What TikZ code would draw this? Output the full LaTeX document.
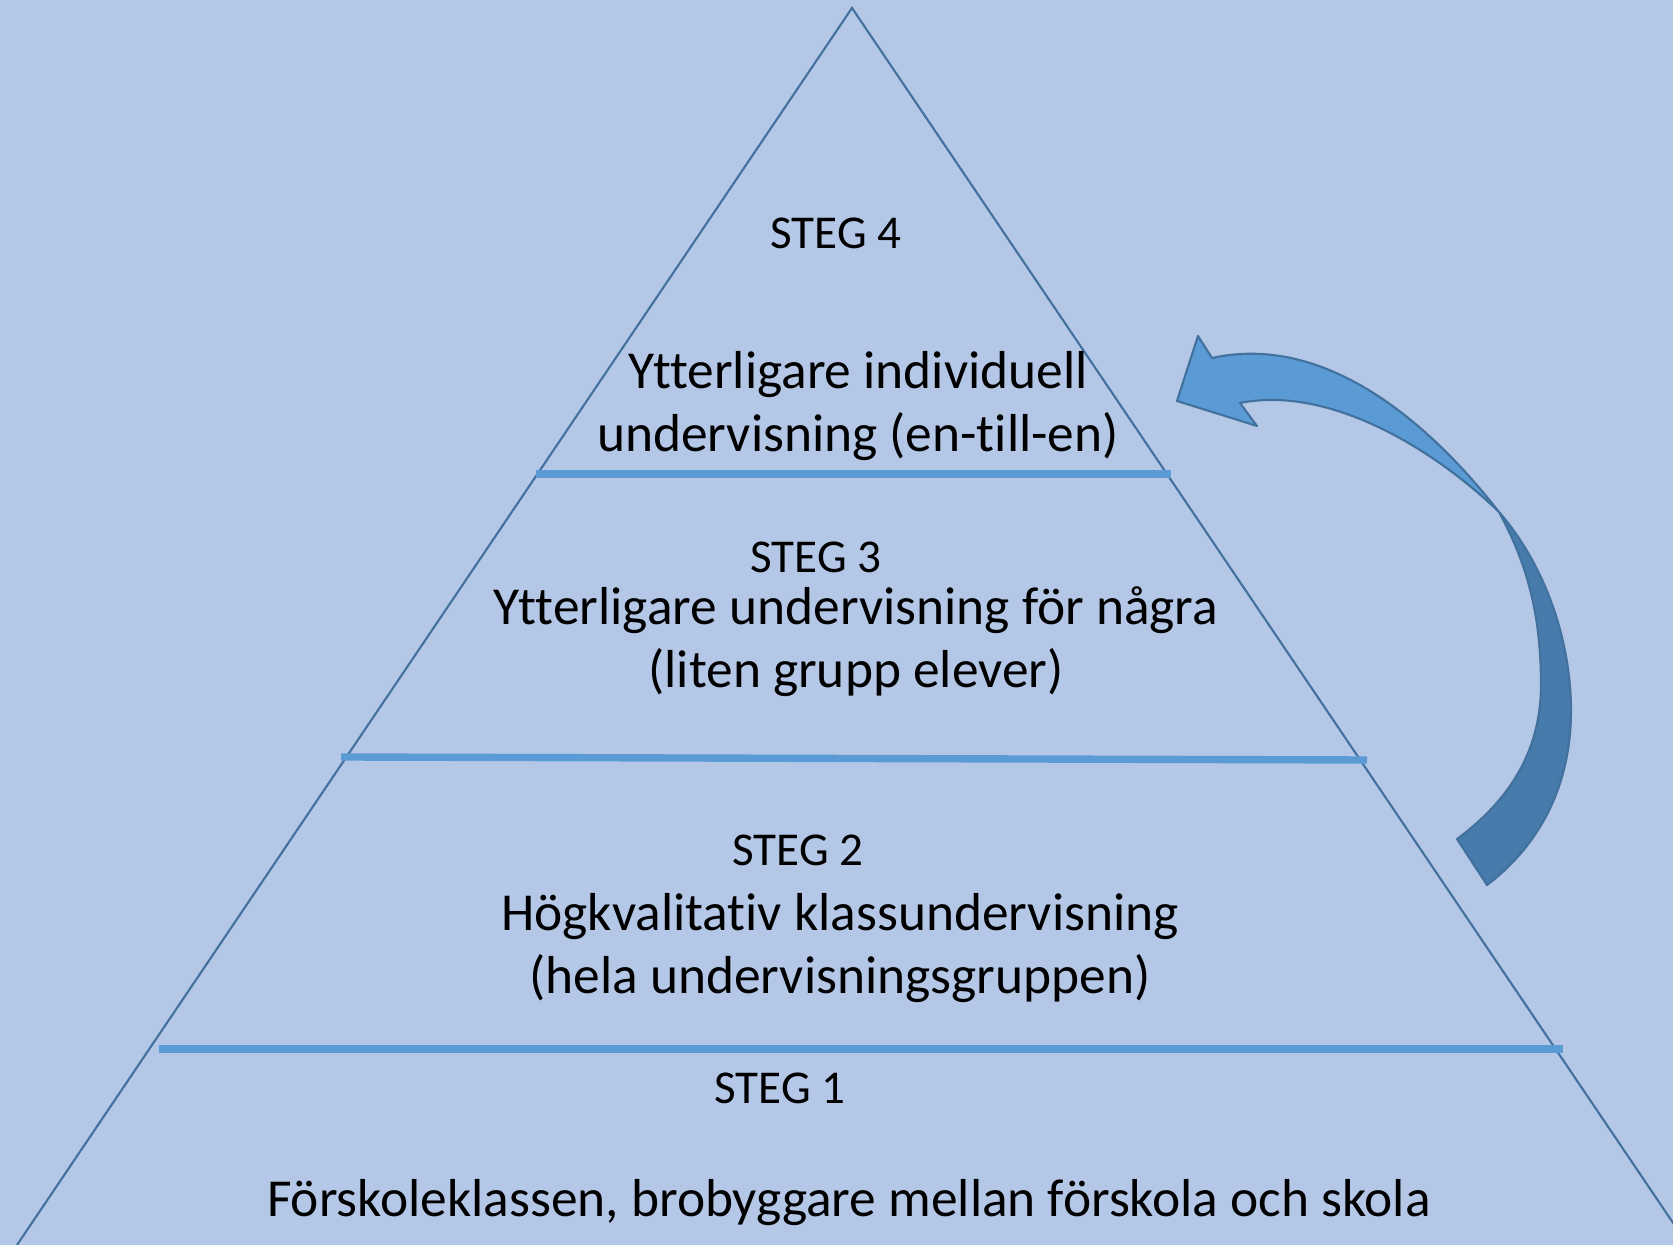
\documentclass[tikz,border=0pt]{standalone}
\usepackage{fontspec}
\setmainfont{Carlito}[Ligatures=CommonOff]
\usepackage{xcolor}
\usetikzlibrary{positioning, calc}
\definecolor{bgblue}{HTML}{B4C7E7}
\definecolor{edgeblue}{HTML}{41719C}
\definecolor{tierblue}{HTML}{5B9BD5}
\definecolor{underblue}{HTML}{477BAB}

\begin{document}
\begin{tikzpicture}[
    title/.style={font=\fontsize{13.4}{16}\selectfont, inner sep=0pt},
    body/.style={font=\fontsize{15.2}{18}\selectfont, align=center, inner sep=0pt},
    tier/.style={draw=tierblue, line width=2.1pt},
    edge/.style={draw=edgeblue, line width=0.6pt, line join=miter},
    ribbon/.style={draw=edgeblue, line width=0.6pt, line join=round}
]
\fill[bgblue] (0,0) rectangle (16.73,-12.45);
\useasboundingbox (0,0) rectangle (16.73,-12.45);
\clip (0,0) rectangle (16.73,-12.45);

% pyramid
\coordinate (apex) at (8.52,-0.08);
\coordinate (baseL) at (0.17,-12.45);
\coordinate (baseR) at (16.88,-12.45);
\draw[edge] (baseL) -- (apex) -- (baseR);

% tiers
\draw[tier] (5.36,-4.74) -- (11.71,-4.74);
\draw[tier] (3.41,-7.57) -- (13.67,-7.60);
\draw[tier] (1.59,-10.49) -- (15.63,-10.49);

% labels
\node[title] (steg4) at (8.36,-2.33) {STEG 4};
\node[body]  (text4) at (8.58,-4.06) {Ytterligare individuell\\undervisning (en-till-en)};
\node[title] (steg3) at (8.16,-5.57) {STEG 3};
\node[body]  (text3) at (8.56,-6.42) {Ytterligare undervisning för några\\(liten grupp elever)};
\node[title] (steg2) at (7.98,-8.50) {STEG 2};
\node[body]  (text2) at (8.40,-9.48) {Högkvalitativ klassundervisning\\(hela undervisningsgruppen)};
\node[title] (steg1) at (7.80,-10.88) {STEG 1};
\node[body]  (text1) at (8.49,-12.03) {Förskoleklassen, brobyggare mellan förskola och skola};

% curved arrow
\coordinate (twist) at (14.99,-5.12);
\draw[ribbon, fill=underblue] (twist)
    .. controls (15.45,-5.65) and (15.71,-6.40) .. (15.71,-7.11)
    .. controls (15.71,-7.85) and (15.40,-8.45) .. (14.87,-8.85)
    -- (14.57,-8.39)
    .. controls (15.10,-8.00) and (15.41,-7.50) .. (15.41,-6.85)
    .. controls (15.41,-6.10) and (15.25,-5.60) .. cycle;
\draw[ribbon, fill=tierblue] (twist)
    .. controls (14.35,-4.30) and (13.30,-3.32) .. (12.12,-3.58)
    -- (11.98,-3.36) -- (11.77,-4.01) -- (12.57,-4.26) -- (12.40,-4.03)
    .. controls (13.30,-3.85) and (14.35,-4.50) .. cycle;
\end{tikzpicture}
\end{document}
